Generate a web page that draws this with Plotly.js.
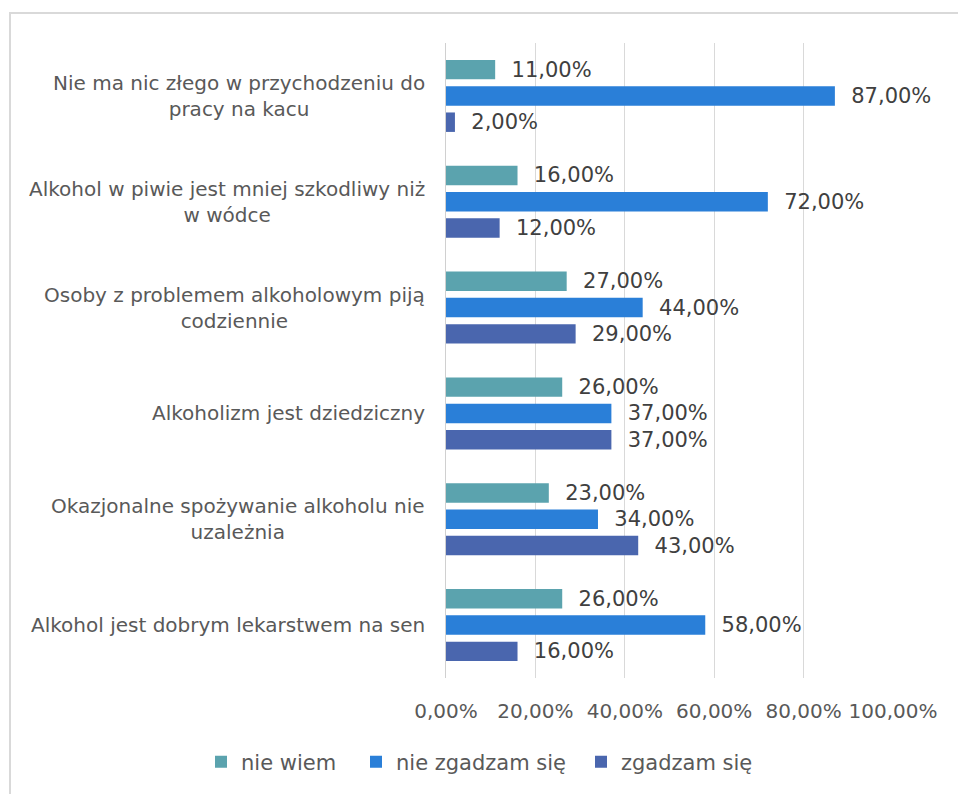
<!DOCTYPE html>
<html>
<head>
<meta charset="utf-8">
<script src="https://cdn.plot.ly/plotly-3.0.1.min.js"></script>
<style>
html,body{margin:0;padding:0;background:#fff;overflow:hidden;}
#frame{position:absolute;left:9px;top:12px;width:1000px;height:900px;border:2px solid #d9d9d9;box-sizing:border-box;pointer-events:none;z-index:2;}
#chart{position:absolute;left:0;top:0;width:958px;height:794px;}
</style>
</head>
<body>
<div id="chart"></div>
<div id="frame"></div>
<script>
const categories = [
  "Nie ma nic złego w przychodzeniu do<br>pracy na kacu",
  "Alkohol w piwie jest mniej szkodliwy niż<br>w wódce",
  "Osoby z problemem alkoholowym piją<br>codziennie",
  "Alkoholizm jest dziedziczny",
  "Okazjonalne spożywanie alkoholu nie<br>uzależnia",
  "Alkohol jest dobrym lekarstwem na sen"
];
const seriesNames = ["nie wiem", "nie zgadzam się", "zgadzam się"];
const nieWiem = [11, 16, 27, 26, 23, 26];
const nieZgadzamSie = [87, 72, 44, 37, 34, 58];
const zgadzamSie = [2, 12, 29, 37, 43, 16];
const tickValues = [0, 20, 40, 60, 80, 100];
const colors = ["#5ba3ae", "#2a7fd8", "#4a66ae"];

const FONT = "DejaVu Sans";
const legendIds = ["legend", "legend2", "legend3"];
const legendX = [201, 356, 581];
const seriesData = [nieWiem, nieZgadzamSie, zgadzamSie];
const traces = seriesData.map((vals, i) => ({
  type: "bar",
  orientation: "h",
  name: seriesNames[i],
  legend: legendIds[i],
  y: categories,
  x: vals.map(v => v / 100),
  marker: {color: colors[i]},
  text: vals.map(v => "\u00a0\u00a0" + v.toFixed(2).replace(".", ",") + "%"),
  textposition: "outside",
  constraintext: "none",
  textfont: {family: FONT, size: 21, color: "#404040"},
  cliponaxis: false,
  hoverinfo: "x+name"
}));

const annotations = categories.map(c => ({
  x: 0, xref: "paper", xanchor: "right", xshift: -19,
  y: c, yref: "y", yanchor: "middle",
  text: c, showarrow: false, align: "center",
  font: {family: FONT, size: 20, color: "#595959"}
}));

const layout = {
  width: 958, height: 794,
  margin: {l: 446, r: 65, t: 43, b: 116},
  paper_bgcolor: "#fff", plot_bgcolor: "#fff",
  barmode: "group", bargap: 0.255, bargroupgap: 0.26,
  separators: ", ",
  font: {family: FONT, color: "#595959"},
  xaxis: {
    range: [0, 1], tickvals: tickValues.map(v => v / 100), tickformat: ".2%",
    showgrid: true, gridcolor: "#d9d9d9", gridwidth: 1.3,
    zeroline: false, showline: false, ticks: "",
    ticklabelstandoff: 19,
    tickfont: {family: FONT, size: 20, color: "#595959"}, fixedrange: true
  },
  yaxis: {
    autorange: "reversed", showticklabels: false, ticks: "",
    showline: true, linecolor: "#d0d0d0", linewidth: 1.5, showgrid: false, fixedrange: true
  },
  showlegend: true,
  annotations: annotations
};
legendIds.forEach((id, i) => {
  layout[id] = {
    orientation: "h", xref: "container", yref: "container",
    x: legendX[i] / 958, xanchor: "left", y: 0.0403, yanchor: "middle",
    font: {family: FONT, size: 21, color: "#595959"},
    bgcolor: "rgba(0,0,0,0)", borderwidth: 0
  };
});

Plotly.newPlot("chart", traces, layout, {displayModeBar: false, staticPlot: true});
</script>
</body>
</html>
